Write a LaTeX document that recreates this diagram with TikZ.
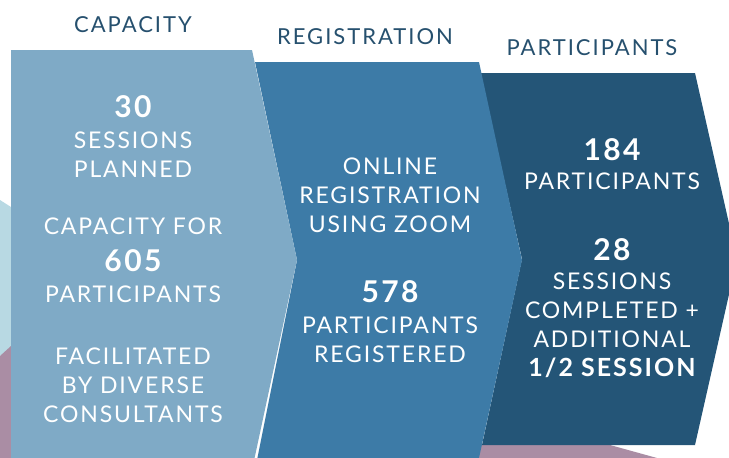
\documentclass[tikz,border=0pt]{standalone}
\usepackage{fontspec}
\setmainfont{Lato}[LetterSpace=8]
\usepackage{tikz}
\usetikzlibrary{positioning}
\definecolor{capblue}{HTML}{7FAAC6}
\definecolor{regblue}{HTML}{3D7BA7}
\definecolor{partblue}{HTML}{245577}
\definecolor{titleblue}{HTML}{26506E}
\definecolor{mistblue}{HTML}{B8D9E3}
\definecolor{mauve}{HTML}{AA8DA4}
\newcommand{\bignum}[1]{{\fontsize{30}{29}\selectfont\bfseries #1}}
\tikzset{
	heading/.style={text=titleblue,font=\fontsize{22}{26}\selectfont\addfontfeature{LetterSpace=9},inner sep=0pt},
	body/.style={text=white,align=center,anchor=north,inner sep=0pt,font=\fontsize{23}{29}\selectfont},
	chevron/.style={draw=none}
}

\begin{document}
\begin{tikzpicture}[x=1pt,y=-1pt]
			\useasboundingbox (0,0) rectangle (729,458);
			\begin{scope}
			\clip (0,0) rectangle (729,458);
			% background
			\fill[mistblue] (0,200) -- (11,207) -- (11,350) -- (0,356) -- cycle;
			\fill[mauve] (0,356) -- (11,346) -- (11,458) -- (0,458) -- cycle;
			\fill[mauve] (470,445) -- (610,445) -- (657,458) -- (470,458) -- cycle;
			% chevrons, back to front
			\fill[chevron,partblue] (480,73) -- (695,73) -- (737,259) -- (695,445) -- (482,445) -- (522,259) -- cycle;
			\fill[chevron,regblue] (255,62) -- (479,62) -- (522,260) -- (479,458) -- (255,470) -- (297,260) -- cycle;
			\fill[chevron,capblue] (11,50) -- (252,50) -- (297,260) -- (252,470) -- (11,470) -- cycle;
			\end{scope}
			
			\node[heading] (capT) at (133,25) {CAPACITY};
			\node[heading] (regT) at (365,37) {REGISTRATION};
			\node[heading] (partT) at (592,48) {PARTICIPANTS};
			
			\node[body] (planned) at (133,95) {\bignum{30}\\[2pt] SESSIONS\\ PLANNED};
			\node[body] (capfor) at (133,218) {CAPACITY FOR\\[8pt] \bignum{605}\\[2pt] PARTICIPANTS};
			\node[body] (facil) at (133,348) {FACILITATED\\ BY DIVERSE\\ CONSULTANTS};
			\node[body] (online) at (390,158) {ONLINE\\ REGISTRATION\\ USING ZOOM};
			\node[body] (registered) at (390,280) {\bignum{578}\\[2pt] PARTICIPANTS\\ REGISTERED};
			\node[body] (count) at (612,138) {\bignum{184}\\ PARTICIPANTS};
			\node[body] (completed) at (612,238) {\bignum{28}\\ SESSIONS\\ COMPLETED +\\ ADDITIONAL\\ {\bfseries\fontsize{25}{29}\selectfont 1/2 SESSION}};
		\end{tikzpicture}
\end{document}
